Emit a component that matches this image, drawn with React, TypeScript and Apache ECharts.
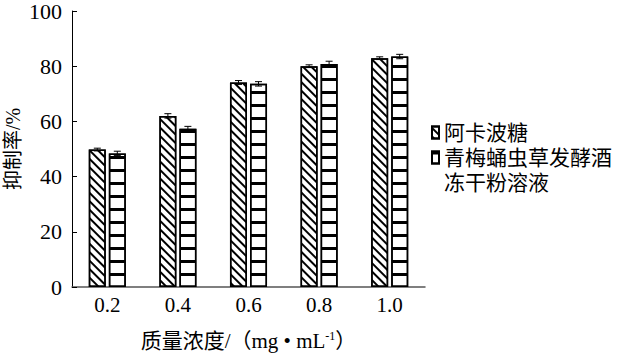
import React, { useEffect, useRef } from "react";
import * as echarts from "echarts";

const categories = ["0.2", "0.4", "0.6", "0.8", "1.0"];
const seriesNames = ["阿卡波糖", "青梅蛹虫草发酵酒\n冻干粉溶液"];
const acarbose = [49.8, 62.0, 74.1, 80.0, 82.9];
const wine = [48.4, 57.3, 73.6, 80.8, 83.5];
const acarboseErr = [0.5, 0.8, 0.7, 0.5, 0.5];
const wineErr = [0.8, 0.9, 0.8, 1.0, 0.8];
const yTicks = [0, 20, 40, 60, 80, 100];

const FONT = '"Times New Roman", "Liberation Serif", "Noto Sans CJK SC", serif';

function errSeries(values: number[], errs: number[], offset: number) {
  return {
    type: "custom",
    silent: true,
    z: 5,
    data: values.map((v, i) => [i, v, errs[i]]),
    renderItem: (params: any, api: any) => {
      const x = api.value(0);
      const v = api.value(1);
      const e = api.value(2);
      const top = api.coord([x, v + e]);
      const bot = api.coord([x, v - e]);
      const cx = top[0] + offset;
      const cap = 3.5;
      const style = { stroke: "#000", lineWidth: 1 };
      return {
        type: "group",
        children: [
          { type: "line", shape: { x1: cx, y1: top[1], x2: cx, y2: bot[1] }, style },
          { type: "line", shape: { x1: cx - cap, y1: top[1], x2: cx + cap, y2: top[1] }, style },
          { type: "line", shape: { x1: cx - cap, y1: bot[1], x2: cx + cap, y2: bot[1] }, style },
        ],
      };
    },
  };
}

export default function App() {
  const ref = useRef<HTMLDivElement>(null);
  useEffect(() => {
    const chart = echarts.init(ref.current!, null, { renderer: "svg" });
    const diagDecal = {
      symbol: "rect",
      symbolSize: 1,
      dashArrayX: [[1, 0]],
      dashArrayY: [1.6, 3.4],
      rotation: Math.PI / 4,
      color: "#000",
      backgroundColor: "#fff",
    };
    const horizDecal = {
      symbol: "rect",
      symbolSize: 1,
      dashArrayX: [[1, 0]],
      dashArrayY: [2.2, 9.1],
      rotation: 0,
      color: "#000",
      backgroundColor: "#fff",
    };
    chart.setOption({
      animation: false,
      backgroundColor: "#fff",
      textStyle: { fontFamily: FONT },
      grid: { left: 72, right: 194, top: 11, bottom: 68, containLabel: false, outerBoundsMode: "none" },
      legend: {
        orient: "vertical",
        left: 431,
        top: 120,
        padding: 0,
        itemWidth: 7,
        itemHeight: 12,
        itemGap: -25,
        icon: "rect",
        formatter: (name: string) => {
          const lines = name.split("\n").map((l) => `{a|${l}}`);
          return lines.length > 1 ? `{e| }\n${lines.join("\n")}` : lines[0];
        },
        textStyle: {
          fontSize: 21,
          lineHeight: 25,
          color: "#000",
          fontFamily: FONT,
          rich: {
            a: { fontSize: 21, lineHeight: 25, color: "#000", fontFamily: FONT },
            e: { fontSize: 21, lineHeight: 25, height: 25 },
          },
        },
        data: seriesNames,
      },
      xAxis: {
        type: "category",
        data: categories,
        axisLine: { lineStyle: { color: "#555", width: 1.5 } },
        axisTick: { show: false },
        axisLabel: { color: "#000", fontSize: 21, margin: 7, fontFamily: FONT },
        name: "{a|质量浓度/（mg • mL}{s|-1}{a|）}",
        nameLocation: "middle",
        nameGap: 43,
        nameMoveOverlap: false,
        nameTextStyle: {
          rich: {
            a: { fontSize: 21, color: "#000", fontFamily: FONT },
            s: { fontSize: 12, color: "#000", fontFamily: FONT, verticalAlign: "top", padding: [0, 0, 9, 0] },
          },
        },
      },
      yAxis: {
        type: "value",
        min: 0,
        max: 100,
        interval: 20,
        axisLine: { show: true, lineStyle: { color: "#000", width: 1 } },
        axisTick: { show: true, inside: true, length: 5, lineStyle: { color: "#000" } },
        splitLine: { show: false },
        axisLabel: {
          color: "#000",
          fontSize: 22,
          margin: 10,
          fontFamily: FONT,
          formatter: (v: number) => (yTicks.includes(v) ? String(v) : ""),
        },
        name: "抑制率/%",
        nameLocation: "middle",
        nameGap: 49,
        nameMoveOverlap: false,
        nameTextStyle: { fontSize: 20, color: "#000", fontFamily: FONT },
      },
      series: [
        {
          name: seriesNames[0],
          type: "bar",
          data: acarbose,
          barWidth: 17,
          barGap: "18%",
          itemStyle: { color: "#fff", borderColor: "#000", borderWidth: 1.5, decal: diagDecal },
        },
        {
          name: seriesNames[1],
          type: "bar",
          data: wine,
          barWidth: 17,
          barGap: "18%",
          itemStyle: { color: "#fff", borderColor: "#000", borderWidth: 1.5, decal: horizDecal },
        },
        errSeries(acarbose, acarboseErr, -10),
        errSeries(wine, wineErr, 10),
      ],
    });
    return () => chart.dispose();
  }, []);
  return <div ref={ref} style={{ width: 619, height: 355, position: "fixed", left: 0, top: 0 }} />;
}
